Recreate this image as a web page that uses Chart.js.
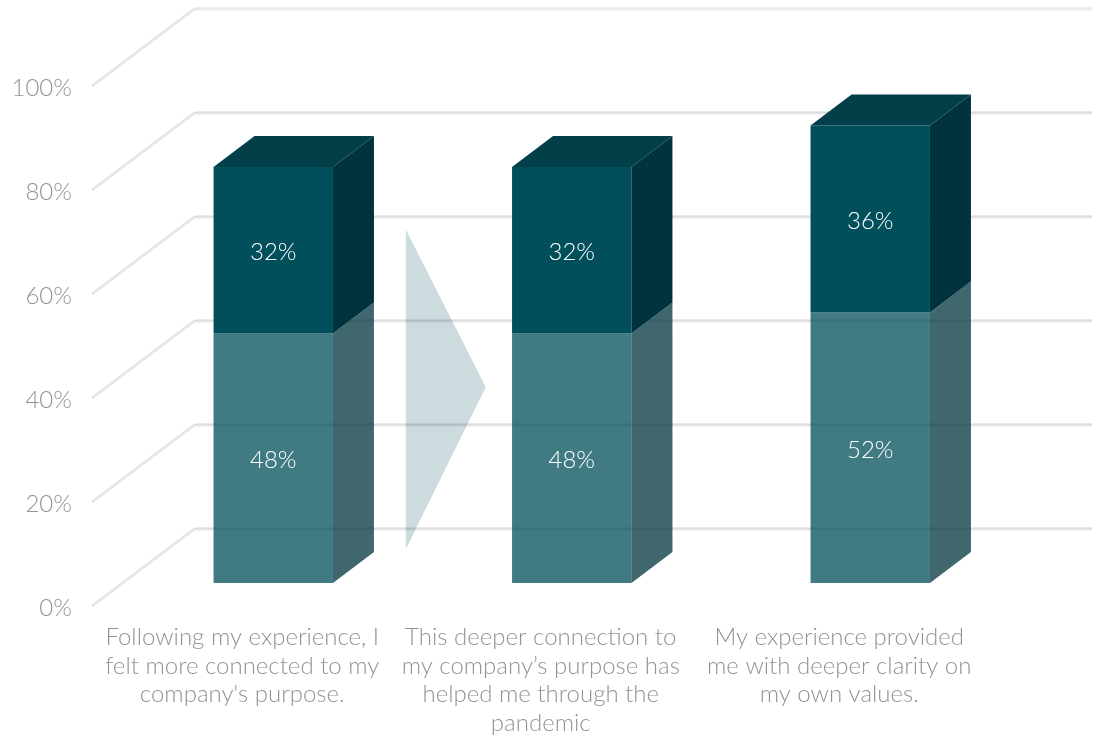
<!DOCTYPE html>
<html>
<head>
<meta charset="utf-8">
<title>Company purpose survey</title>
<script src="https://cdn.jsdelivr.net/npm/chart.js@4"></script>
<style>
  html, body { margin: 0; padding: 0; background: #fff; }
  canvas { display: block; }
</style>
</head>
<body>
<canvas id="chart" width="1099" height="737"></canvas>
<script>
const categories = [
    ['Following my experience, I', 'felt more connected to my', "company's purpose."],
    ['This deeper connection to', 'my company\u2019s purpose has', 'helped me through the', 'pandemic'],
    ['My experience provided', 'me with deeper clarity on', 'my own values.']
];
const lowerValues = [48, 48, 52];
const upperValues = [32, 32, 36];
const yTicks = [0, 20, 40, 60, 80, 100];

// arrow between the first two columns: category units across, percent up
const arrowX = [0.444, 0.712, 0.444];
const arrowY = [68, 37.7, 6.5];

// 3D look
const barDepth = { x: 41, y: 31 };
const wallFront = { x: -32, y: 23 };
const wallBack = { x: 71, y: -55 };

const faces = [
    { front: 'rgba(0,79,91,0.75)', side: 'rgba(0,51,61,0.75)' },
    { front: '#004f5b', side: '#00333d', top: '#023f49' }
];

function polygon(ctx, pts, fill) {
    ctx.beginPath();
    pts.forEach((p, i) => i ? ctx.lineTo(p[0], p[1]) : ctx.moveTo(p[0], p[1]));
    ctx.closePath();
    ctx.fillStyle = fill;
    ctx.fill();
}

function segment(ctx, x1, y1, x2, y2, color, width) {
    ctx.beginPath();
    ctx.moveTo(x1, y1);
    ctx.lineTo(x2, y2);
    ctx.strokeStyle = color;
    ctx.lineWidth = width;
    ctx.stroke();
}

const wallPlugin = {
    id: 'wall',
    beforeDatasetsDraw(chart) {
        const ctx = chart.ctx;
        const { left, right } = chart.chartArea;
        const y = chart.scales.y;
        const backX = left + wallBack.x;
        const endX = right + wallBack.x + 1.5;
        ctx.save();
        yTicks.forEach(v => {
            const py = y.getPixelForValue(v);
            const by = Math.round(py + wallBack.y) + 0.5;
            // soft halo then the line itself
            segment(ctx, backX, by + 0.5, endX, by + 0.5, '#f1f1f1', 4);
            segment(ctx, backX, by, endX, by, v === 100 ? '#e8e8e8' : '#d9d9d9', 1.5);
            segment(ctx, left + wallFront.x, py + wallFront.y, backX, by, '#dcdcdc', 2.2);
            segment(ctx, left + wallFront.x, py + wallFront.y, backX, by, '#efefef', 1);
        });
        ctx.restore();
    }
};

const facesPlugin = {
    id: 'faces',
    afterDatasetsDraw(chart) {
        const ctx = chart.ctx;
        ctx.save();
        chart.data.datasets.forEach((ds, d) => {
            chart.getDatasetMeta(d).data.forEach(bar => {
                const r = bar.x + bar.width / 2;
                const l = bar.x - bar.width / 2;
                const dx = barDepth.x, dy = barDepth.y;
                polygon(ctx, [[r, bar.base], [r + dx, bar.base - dy], [r + dx, bar.y - dy], [r, bar.y]], faces[d].side);
                if (faces[d].top) {
                    polygon(ctx, [[l, bar.y], [l + dx, bar.y - dy], [r + dx, bar.y - dy], [r, bar.y]], faces[d].top);
                }
            });
        });

        // arrow
        const x = chart.scales.x, y = chart.scales.y;
        const span = x.getPixelForValue(1) - x.getPixelForValue(0);
        polygon(ctx, arrowX.map((v, i) => [x.getPixelForValue(0) + v * span, y.getPixelForValue(arrowY[i])]), 'rgba(0,79,91,0.2)');

        // value labels
        ctx.font = '300 24px Lato';
        ctx.fillStyle = '#fff';
        ctx.textAlign = 'center';
        ctx.textBaseline = 'middle';
        chart.data.datasets.forEach((ds, d) => {
            chart.getDatasetMeta(d).data.forEach((bar, i) => {
                ctx.fillText(ds.data[i] + '%', bar.x, (bar.y + bar.base) / 2 + 2);
            });
        });
        ctx.restore();
    }
};

new Chart(document.getElementById('chart').getContext('2d'), {
    type: 'bar',
    data: {
        labels: categories,
        datasets: [
            { data: lowerValues, backgroundColor: faces[0].front, borderWidth: 0 },
            { data: upperValues, backgroundColor: faces[1].front, borderWidth: 0 }
        ]
    },
    options: {
        responsive: false,
        animation: false,
        layout: { padding: { top: 63, right: 79.5, left: 0, bottom: 0 } },
        categoryPercentage: 0.4,
        barPercentage: 1,
        plugins: { legend: { display: false }, tooltip: { enabled: false } },
        scales: {
            x: {
                stacked: true,
                grid: { display: false, drawTicks: false },
                border: { display: false },
                afterFit: s => { s.height = 154; },
                ticks: {
                    autoSkip: false,
                    maxRotation: 0,
                    minRotation: 0,
                    labelOffset: wallFront.x + 1,
                    padding: 40,
                    color: '#939393',
                    font: { family: 'Lato', size: 24, weight: '300', lineHeight: 1.19 }
                }
            },
            y: {
                stacked: true,
                min: 0,
                max: 100,
                // tick length only widens the gap, large tick padding would eat into the plot height
                grid: { display: false, drawTicks: true, tickLength: 22 },
                border: { display: false },
                afterFit: s => { s.width = 124; },
                ticks: {
                    stepSize: 20,
                    labelOffset: 25,
                    padding: 30,
                    color: '#939393',
                    font: { family: 'Lato', size: 24, weight: '300' },
                    callback: v => v + '%'
                }
            }
        }
    },
    plugins: [wallPlugin, facesPlugin]
});
</script>
</body>
</html>
